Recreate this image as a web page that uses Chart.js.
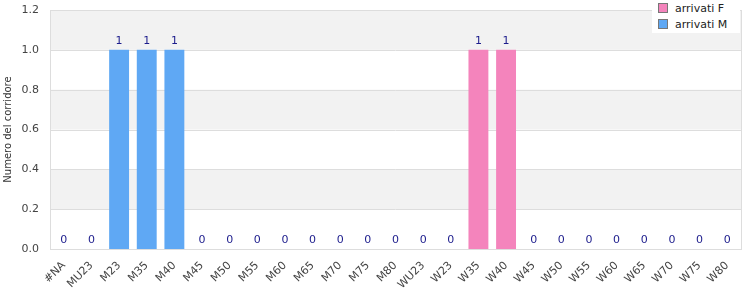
<!DOCTYPE html>
<html>
<head>
<meta charset="utf-8">
<script src="https://cdn.jsdelivr.net/npm/chart.js@4.4.1/dist/chart.umd.min.js"></script>
<style>
  html, body { margin: 0; padding: 0; background: #fff; }
  #wrap { position: relative; width: 750px; height: 300px; }
  #legend {
    position: absolute; left: 652px; top: 0; width: 88px; height: 33px;
    background: #fff; font: 11px "DejaVu Sans", sans-serif; color: #222;
  }
  #legend div { height: 15px; line-height: 15px; padding-left: 6px; margin-top: 1px; }
  #legend span.box {
    display: inline-block; width: 8px; height: 8px; border: 1px solid #777;
    margin-right: 7px; vertical-align: -1px;
  }
</style>
</head>
<body>
<div id="wrap">
  <canvas id="chart" width="750" height="300"></canvas>
  <div id="legend"></div>
</div>
<script>
const categories = ['#NA', 'MU23', 'M23', 'M35', 'M40', 'M45', 'M50', 'M55', 'M60', 'M65', 'M70', 'M75', 'M80',
    'WU23', 'W23', 'W35', 'W40', 'W45', 'W50', 'W55', 'W60', 'W65', 'W70', 'W75', 'W80'];
const arrivatiF = [0, 0, 0, 0, 0, 0, 0, 0, 0, 0, 0, 0, 0, 0, 0, 1, 1, 0, 0, 0, 0, 0, 0, 0, 0];
const arrivatiM = [0, 0, 1, 1, 1, 0, 0, 0, 0, 0, 0, 0, 0, 0, 0, 0, 0, 0, 0, 0, 0, 0, 0, 0, 0];
const yTicks = [0, 0.2, 0.4, 0.6, 0.8, 1.0, 1.2];

const colF = '#f484bc';
const colM = '#5fa8f4';

// grey/white bands + frame behind the bars
const bandsPlugin = {
    id: 'bands',
    beforeDatasetsDraw(chart) {
        const { ctx, chartArea: a, scales: { y } } = chart;
        ctx.save();
        for (let i = 0; i < yTicks.length - 1; i++) {
            if ((yTicks.length - 2 - i) % 2 === 0) {
                const top = y.getPixelForValue(yTicks[i + 1]);
                const bot = y.getPixelForValue(yTicks[i]);
                ctx.fillStyle = '#f2f2f2';
                ctx.fillRect(a.left, top, a.right - a.left, bot - top);
            }
        }
        ctx.strokeStyle = '#dddddd';
        ctx.lineWidth = 1;
        yTicks.forEach(v => {
            const py = Math.round(y.getPixelForValue(v)) + 0.5;
            ctx.beginPath();
            ctx.moveTo(a.left, py);
            ctx.lineTo(a.right, py);
            ctx.stroke();
        });
        ctx.strokeRect(Math.round(a.left) + 0.5, Math.round(a.top) + 0.5,
            Math.round(a.right - a.left), Math.round(a.bottom - a.top));
        ctx.restore();
    }
};

// totals written above each column
const totalsPlugin = {
    id: 'totals',
    afterDatasetsDraw(chart) {
        const { ctx, scales: { x, y } } = chart;
        ctx.save();
        ctx.font = '11px "DejaVu Sans", sans-serif';
        ctx.fillStyle = '#1c1c8c';
        ctx.textAlign = 'center';
        ctx.textBaseline = 'bottom';
        categories.forEach((c, i) => {
            const total = arrivatiF[i] + arrivatiM[i];
            ctx.fillText(String(total), x.getPixelForValue(i), y.getPixelForValue(total) - 3);
        });
        ctx.restore();
    }
};

const datasets = [
    { label: 'arrivati F', data: arrivatiF, backgroundColor: colF },
    { label: 'arrivati M', data: arrivatiM, backgroundColor: colM }
];

document.getElementById('legend').innerHTML = datasets.map(d =>
    '<div><span class="box" style="background:' + d.backgroundColor + '"></span>' + d.label + '</div>').join('');

Chart.defaults.font.family = '"DejaVu Sans", sans-serif';
Chart.defaults.font.size = 11;
Chart.defaults.color = '#444';

new Chart(document.getElementById('chart'), {
    type: 'bar',
    data: { labels: categories, datasets: datasets },
    options: {
        responsive: false,
        animation: false,
        layout: { padding: { top: 10, right: 9, left: 0, bottom: 0 } },
        datasets: { bar: { barPercentage: 0.8, categoryPercentage: 0.9 } },
        plugins: { legend: { display: false }, tooltip: { enabled: false } },
        scales: {
            x: {
                stacked: true,
                grid: { display: false },
                border: { display: false },
                ticks: { minRotation: 45, maxRotation: 45, autoSkip: false, color: '#444', padding: 2 },
                afterFit(s) { s.height = 51; }
            },
            y: {
                stacked: true,
                min: 0, max: 1.2,
                grid: { display: false },
                border: { display: false },
                ticks: { stepSize: 0.2, color: '#444', callback: v => v.toFixed(1) },
                title: { display: true, text: 'Numero del corridore', color: '#333', font: { size: 10 }, padding: 2 },
                afterFit(s) { s.width = 50; }
            }
        }
    },
    plugins: [bandsPlugin, totalsPlugin]
});
</script>
</body>
</html>
